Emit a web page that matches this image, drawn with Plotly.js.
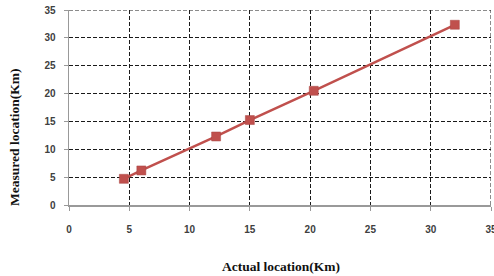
<!DOCTYPE html>
<html><head><meta charset="utf-8">
<script src="https://cdn.plot.ly/plotly-3.0.1.min.js"></script>
<style>html,body{margin:0;padding:0;background:#fff;}#chart{width:494px;height:276px;}</style>
</head><body><div id="chart"></div>
<script>
const actual = [4.55, 6.0, 12.2, 15.0, 20.3, 32.0];
const measured = [4.7, 6.2, 12.3, 15.25, 20.5, 32.35];
const axisMax = 35;
const xTitle = "Actual location(Km)";
const yTitle = "Measured location(Km)";

const tickFont = {family: "Liberation Sans, Arial, sans-serif", size: 10, color: "#404040", weight: "bold"};
const titleFont = {family: "Liberation Serif, Times New Roman, serif", size: 13.5, color: "#111", weight: "bold"};
const gridStyle = {color: "#1a1a1a", width: 1, dash: "4px,2px"};

Plotly.newPlot("chart", [{
  x: actual, y: measured, type: "scatter", mode: "lines+markers",
  line: {color: "#c0504d", width: 2.5},
  marker: {symbol: "square", size: 9, color: "#c0504d", line: {color: "#a94542", width: 0.5}},
  hoverinfo: "none"
}], {
  width: 494, height: 276,
  margin: {l: 69, r: 3, t: 10, b: 71},
  paper_bgcolor: "#fff", plot_bgcolor: "#fff",
  showlegend: false,
  xaxis: {
    range: [0, axisMax], dtick: 5, tick0: 0,
    showgrid: true, gridcolor: "#1a1a1a", griddash: "4px,2px", gridwidth: 1,
    showline: true, linecolor: "#999", linewidth: 1.5,
    zeroline: false, ticks: "outside", ticklen: 4, tickcolor: "#999",
    ticklabelstandoff: 10, ticklabeloverflow: "allow",
    tickfont: tickFont
  },
  yaxis: {
    range: [0, axisMax], dtick: 5, tick0: 0,
    showgrid: true, gridcolor: "#1a1a1a", griddash: "4px,2px", gridwidth: 1,
    showline: true, linecolor: "#999", linewidth: 1.5,
    zeroline: false, ticks: "outside", ticklen: 4, tickcolor: "#999",
    ticklabelstandoff: 6, ticklabeloverflow: "allow",
    tickfont: tickFont
  },
  shapes: [
    {type: "line", xref: "x", yref: "y", x0: 0, x1: axisMax, y0: axisMax, y1: axisMax, line: gridStyle, layer: "below"},
    {type: "line", xref: "x", yref: "y", x0: axisMax, x1: axisMax, y0: 0, y1: axisMax, line: gridStyle, layer: "below"}
  ],
  annotations: [
    {text: xTitle, xref: "paper", yref: "paper", x: 0.502, y: -0.313, showarrow: false,
     xanchor: "center", yanchor: "middle", font: titleFont},
    {text: yTitle, xref: "paper", yref: "paper", x: -0.128, y: 0.349, showarrow: false,
     textangle: -90, xanchor: "center", yanchor: "middle", font: titleFont}
  ]
}, {staticPlot: true});
</script></body></html>
